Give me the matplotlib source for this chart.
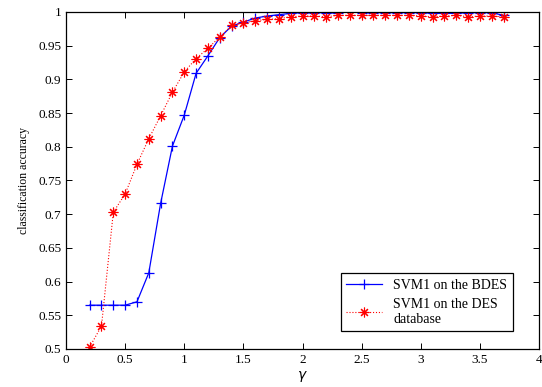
import numpy as np
import matplotlib
matplotlib.use('Agg')
import matplotlib.pyplot as plt

plt.rcParams['font.family'] = ['Liberation Serif', 'DejaVu Serif']

# gamma values, 0.2 .. 3.7
gamma = [0.2, 0.3, 0.4, 0.5, 0.6, 0.7, 0.8, 0.9, 1.0, 1.1, 1.2, 1.3,
         1.4, 1.5, 1.6, 1.7, 1.8, 1.9, 2.0, 2.1, 2.2, 2.3, 2.4, 2.5,
         2.6, 2.7, 2.8, 2.9, 3.0, 3.1, 3.2, 3.3, 3.4, 3.5, 3.6, 3.7]

acc_bdes = [0.565, 0.565, 0.565, 0.565, 0.570, 0.613, 0.716, 0.801, 0.847,
            0.909, 0.935, 0.962, 0.979, 0.985, 0.991, 0.994, 0.996, 0.998,
            0.999, 0.999, 0.999, 0.998, 1.001, 0.999, 0.999, 0.999, 0.999,
            0.999, 0.999, 0.998, 0.998, 0.998, 0.999, 0.999, 0.999, 0.995]

acc_des = [0.503, 0.534, 0.703, 0.730, 0.774, 0.812, 0.846, 0.881, 0.911,
           0.931, 0.946, 0.963, 0.980, 0.984, 0.987, 0.989, 0.990, 0.993,
           0.994, 0.994, 0.993, 0.995, 0.995, 0.995, 0.995, 0.995, 0.995,
           0.995, 0.994, 0.993, 0.994, 0.995, 0.993, 0.994, 0.994, 0.993]

xticks = [0, 0.5, 1, 1.5, 2, 2.5, 3, 3.5, 4]
xlabels = ['0', '0.5', '1', '1.5', '2', '2.5', '3', '3.5', '4']
yticks = [0.5, 0.55, 0.6, 0.65, 0.7, 0.75, 0.8, 0.85, 0.9, 0.95, 1.0]
ylabels = ['0.5', '0.55', '0.6', '0.65', '0.7', '0.75', '0.8', '0.85',
           '0.9', '0.95', '1']

fig = plt.figure(figsize=(5.42, 3.87), dpi=100)
ax = fig.add_axes([0.1218, 0.0982, 0.8727, 0.8708])

ax.plot(gamma, acc_bdes, color='blue', linestyle='-', linewidth=0.9,
        marker='+', markersize=7.5, markeredgewidth=0.9,
        label='SVM1 on the BDES')
# matlab style asterisk: 4 crossing strokes
ax.plot(gamma, acc_des, color='red', linestyle=':', linewidth=0.8,
        marker=(8, 2, 0), markersize=7, markeredgewidth=0.8,
        label='SVM1 on the DES\ndatabase')

ax.set_xlim(0, 4)
ax.set_ylim(0.5, 1)
ax.set_xticks(xticks)
ax.set_xticklabels(xlabels)
ax.set_yticks(yticks)
ax.set_yticklabels(ylabels)
ax.tick_params(direction='in', top=True, right=True, labelsize=9.5,
               length=4, width=0.7)
for sp in ax.spines.values():
    sp.set_linewidth(0.9)

ax.set_xlabel(r'$\gamma$', fontsize=10, labelpad=2)
ax.set_ylabel('classification accuracy', fontsize=8.5, labelpad=6)

leg = ax.legend(loc='lower right', bbox_to_anchor=(0.945, 0.053),
                borderaxespad=0, fontsize=10, fancybox=False,
                edgecolor='black', framealpha=1, handlelength=2.6,
                labelspacing=0.4)
leg.get_frame().set_linewidth(0.9)

fig.savefig('out.png', dpi=100)
